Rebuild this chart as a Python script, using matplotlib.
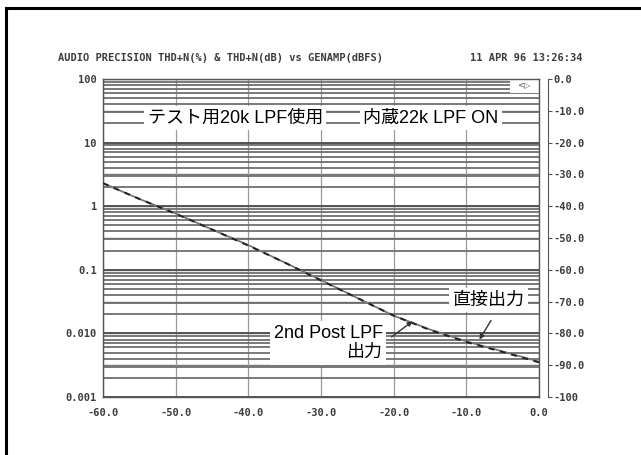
import matplotlib
matplotlib.use("Agg")
import matplotlib.pyplot as plt
import numpy as np
from matplotlib.ticker import FixedLocator, FixedFormatter, LogLocator, NullFormatter
from matplotlib.lines import Line2D
from matplotlib.patches import Rectangle

# 掃引データ（GENAMP dBFS に対する THD+N %）
gen_dbfs = [-60, -55, -50, -45, -40, -35, -30, -25, -20, -15, -10, -5, 0]
thdn_direct = [2.3, 1.3, 0.77, 0.43, 0.245, 0.13, 0.069, 0.036, 0.019, 0.0115, 0.0075, 0.0052, 0.0036]
thdn_post_lpf = [2.3, 1.3, 0.76, 0.43, 0.24, 0.13, 0.068, 0.036, 0.019, 0.0113, 0.0073, 0.0051, 0.0035]

pct_ticks = [0.001, 0.01, 0.1, 1, 10, 100]
pct_labels = ["0.001", "0.010", "0.1", "1", "10", "100"]
x_ticks = [-60, -50, -40, -30, -20, -10, 0]
db_ticks = list(range(-100, 1, 10))

title_text = "AUDIO PRECISION THD+N(%) & THD+N(dB) vs GENAMP(dBFS)"
date_text = "11 APR 96 13:26:34"

jp = ["Liberation Sans", "Noto Sans CJK JP"]
mono = "DejaVu Sans Mono"
ink = "#3c3c3c"

fig = plt.figure(figsize=(6.41, 4.55), dpi=100)
ax = fig.add_axes([0.1607, 0.1275, 0.6802, 0.6989])

ax.set_yscale("log")
ax.set_xlim(-60, 0)
ax.set_ylim(0.001, 100)

# グリッド（対数の細かい横線が帯状に見える）
ax.yaxis.set_major_locator(FixedLocator(pct_ticks))
ax.yaxis.set_major_formatter(FixedFormatter(pct_labels))
ax.yaxis.set_minor_locator(LogLocator(base=10, subs=np.arange(2, 10)))
ax.yaxis.set_minor_formatter(NullFormatter())
ax.xaxis.set_major_locator(FixedLocator(x_ticks))
ax.set_xticklabels([f"{v:.1f}" for v in x_ticks])

ax.grid(True, axis="y", which="major", color="#555555", lw=1.4)
ax.grid(True, axis="y", which="minor", color="#6e6e6e", lw=1.3)
ax.grid(True, axis="x", which="major", color="#999999", lw=0.9)

ax.tick_params(axis="both", which="both", length=0)
ax.tick_params(axis="y", pad=4.5, labelsize=7.5, labelcolor=ink)
ax.tick_params(axis="x", pad=8, labelsize=7.5, labelcolor=ink)
for lab in ax.get_xticklabels() + ax.get_yticklabels():
    lab.set_family(mono)
    lab.set_weight("bold")
for sp in ax.spines.values():
    sp.set_color("#555555")
    sp.set_linewidth(1.0)

# 右軸 dB
ax2 = ax.twinx()
ax2.set_ylim(-100, 0)
ax2.yaxis.set_major_locator(FixedLocator(db_ticks))
ax2.set_yticklabels(["-100" if v == -100 else f"{v:.1f}" for v in db_ticks])
ax2.grid(True, axis="y", color="#777777", lw=1.0)
ax2.set_zorder(ax.get_zorder() - 1)
ax.patch.set_visible(False)
for name in ["left", "top", "bottom"]:
    ax2.spines[name].set_visible(False)
ax2.spines["right"].set_position(("outward", 6.5))
ax2.spines["right"].set_color("#555555")
ax2.tick_params(axis="y", length=3, color="#555555", pad=1,
                labelsize=7.5, labelcolor=ink)
for lab in ax2.get_yticklabels():
    lab.set_family(mono)
    lab.set_weight("bold")

# 測定カーブ
ax.plot(gen_dbfs, thdn_direct, color="#777777", lw=1.3, zorder=3)
ax.plot(gen_dbfs, thdn_post_lpf, color="#222222", lw=1.4, ls=(0, (3, 3)), zorder=4)

# 右上の掃引方向マーク
ax.add_patch(Rectangle((0.933, 0.956), 0.067, 0.044, transform=ax.transAxes,
                       facecolor="white", edgecolor="none", zorder=2.5))
ax.text(0.965, 0.979, "<▷", transform=ax.transAxes, ha="center", va="center",
        fontsize=6, color="#555555", zorder=5)

# 注記
box = dict(facecolor="white", edgecolor="none", pad=2.5)
ax.text(-41.8, 24.4, "テスト用20k LPF使用", family=jp, fontsize=13,
        ha="center", va="center", bbox=box, zorder=6)
ax.text(-14.9, 24.4, "内蔵22k LPF ON", family=jp, fontsize=13,
        ha="center", va="center", bbox=box, zorder=6)
ax.text(-6.9, 0.0335, "直接出力", family=jp, fontsize=13,
        ha="center", va="center", bbox=box, zorder=6)
ax.text(-21.5, 0.0071, "2nd Post LPF\n出力", family=jp, fontsize=13,
        ha="right", va="center", multialignment="right", linespacing=1.2,
        bbox=box, zorder=6)

arrow = dict(arrowstyle="-|>", color="#333333", lw=1.0, mutation_scale=7,
             shrinkA=0, shrinkB=0)
ax.annotate("", xy=(-17.4, 0.0155), xytext=(-20.3, 0.0088),
            arrowprops=arrow, zorder=7)
ax.annotate("", xy=(-8.2, 0.0080), xytext=(-6.6, 0.016),
            arrowprops=arrow, zorder=7)

# ヘッダー
fig.text(58 / 641, 1 - 58 / 455, title_text, family=mono, fontsize=7.5,
         weight="bold", color=ink, ha="left", va="center")
fig.text(583 / 641, 1 - 58 / 455, date_text, family=mono, fontsize=7.5,
         weight="bold", color=ink, ha="right", va="center")

# 外枠（左と上）
fig.add_artist(Line2D([6 / 641, 6 / 641], [0, 1 - 8 / 455], color="black", lw=2.2))
fig.add_artist(Line2D([6 / 641, 1], [1 - 8 / 455, 1 - 8 / 455], color="black", lw=2.2))

fig.savefig("out.png", dpi=100)
